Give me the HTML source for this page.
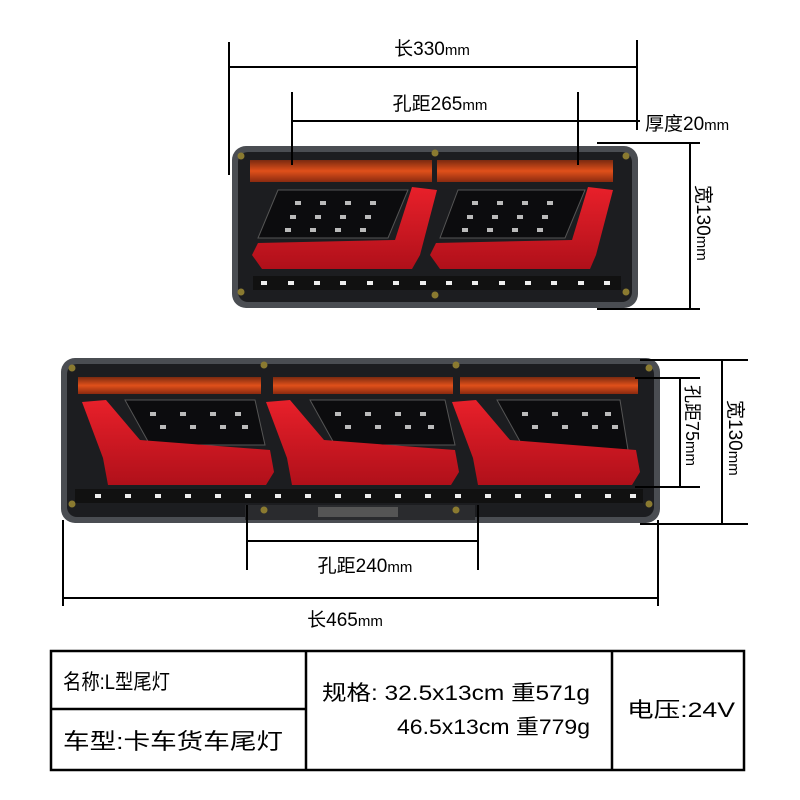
<!DOCTYPE html>
<html><head><meta charset="utf-8"><style>
html,body{margin:0;padding:0;background:#fff}
svg{display:block}
text{font-family:"Liberation Sans","Noto Sans CJK SC",sans-serif;fill:#000}
</style></head><body>
<svg width="800" height="800" viewBox="0 0 800 800" xmlns="http://www.w3.org/2000/svg">
<defs>
<linearGradient id="amb" x1="0" y1="0" x2="0" y2="1"><stop offset="0" stop-color="#7a2a10"/><stop offset="0.5" stop-color="#e0501a"/><stop offset="1" stop-color="#8a2a10"/></linearGradient>
<linearGradient id="red" x1="0" y1="0" x2="0" y2="1"><stop offset="0" stop-color="#e8202a"/><stop offset="1" stop-color="#b0101a"/></linearGradient>
</defs>
<!-- Lamp 1 -->
<rect x="232" y="146" width="406" height="162" rx="14" fill="#4a4d52"/>
<rect x="238" y="152" width="394" height="150" rx="10" fill="#1c1d20"/>
<rect x="250" y="160" width="182" height="22" fill="url(#amb)"/>
<rect x="437" y="160" width="176" height="22" fill="url(#amb)"/>
<polygon points="278,190 408,190 388,238 258,238" fill="#0c0c0e" stroke="#555" stroke-width="1"/>
<polygon points="458,190 585,190 565,238 440,238" fill="#0c0c0e" stroke="#555" stroke-width="1"/>
<polygon points="412,187 437,190 420,255 412,269 262,269 252,255 258,243 395,240" fill="url(#red)"/>
<polygon points="588,187 613,190 596,255 590,269 440,269 430,255 436,243 572,240" fill="url(#red)"/>
<rect x="253" y="276" width="368" height="14" fill="#111"/>
<g fill="#eee">
<rect x="261" y="281" width="6" height="4"/><rect x="288" y="281" width="6" height="4"/><rect x="314" y="281" width="6" height="4"/><rect x="340" y="281" width="6" height="4"/><rect x="367" y="281" width="6" height="4"/><rect x="393" y="281" width="6" height="4"/><rect x="420" y="281" width="6" height="4"/><rect x="446" y="281" width="6" height="4"/><rect x="472" y="281" width="6" height="4"/><rect x="499" y="281" width="6" height="4"/><rect x="525" y="281" width="6" height="4"/><rect x="551" y="281" width="6" height="4"/><rect x="578" y="281" width="6" height="4"/><rect x="604" y="281" width="6" height="4"/>
</g>
<g fill="#bbb">
<rect x="295" y="201" width="6" height="4"/><rect x="320" y="201" width="6" height="4"/><rect x="345" y="201" width="6" height="4"/><rect x="370" y="201" width="6" height="4"/>
<rect x="290" y="215" width="6" height="4"/><rect x="315" y="215" width="6" height="4"/><rect x="340" y="215" width="6" height="4"/><rect x="365" y="215" width="6" height="4"/>
<rect x="285" y="228" width="6" height="4"/><rect x="310" y="228" width="6" height="4"/><rect x="335" y="228" width="6" height="4"/><rect x="360" y="228" width="6" height="4"/>
<rect x="472" y="201" width="6" height="4"/><rect x="497" y="201" width="6" height="4"/><rect x="522" y="201" width="6" height="4"/><rect x="547" y="201" width="6" height="4"/>
<rect x="467" y="215" width="6" height="4"/><rect x="492" y="215" width="6" height="4"/><rect x="517" y="215" width="6" height="4"/><rect x="542" y="215" width="6" height="4"/>
<rect x="462" y="228" width="6" height="4"/><rect x="487" y="228" width="6" height="4"/><rect x="512" y="228" width="6" height="4"/><rect x="537" y="228" width="6" height="4"/>
</g>
<g fill="#8a7a30"><circle cx="241" cy="156" r="3.5"/><circle cx="626" cy="156" r="3.5"/><circle cx="435" cy="153" r="3.5"/><circle cx="241" cy="292" r="3.5"/><circle cx="626" cy="292" r="3.5"/><circle cx="435" cy="295" r="3.5"/></g>

<!-- Lamp 2 -->
<rect x="61" y="358" width="599" height="165" rx="14" fill="#4a4d52"/>
<rect x="67" y="364" width="587" height="153" rx="10" fill="#1c1d20"/>
<rect x="78" y="377" width="183" height="17" fill="url(#amb)"/>
<rect x="273" y="377" width="180" height="17" fill="url(#amb)"/>
<rect x="460" y="377" width="178" height="17" fill="url(#amb)"/>
<polygon points="125,400 255,400 265,445 150,445" fill="#0c0c0e" stroke="#555"/>
<polygon points="310,400 445,400 455,445 335,445" fill="#0c0c0e" stroke="#555"/>
<polygon points="497,400 620,400 628,450 522,445" fill="#0c0c0e" stroke="#555"/>
<polygon points="82,402 106,400 140,440 270,450 274,472 266,485 108,485 103,458" fill="url(#red)"/>
<polygon points="266,402 290,400 324,440 455,450 459,472 451,485 292,485 287,458" fill="url(#red)"/>
<polygon points="452,402 476,400 510,440 636,450 640,472 632,485 478,485 473,458" fill="url(#red)"/>
<rect x="75" y="489" width="568" height="14" fill="#111"/>
<g fill="#eee">
<rect x="95" y="494" width="6" height="4"/><rect x="125" y="494" width="6" height="4"/><rect x="155" y="494" width="6" height="4"/><rect x="185" y="494" width="6" height="4"/><rect x="215" y="494" width="6" height="4"/><rect x="245" y="494" width="6" height="4"/><rect x="275" y="494" width="6" height="4"/><rect x="305" y="494" width="6" height="4"/><rect x="335" y="494" width="6" height="4"/><rect x="365" y="494" width="6" height="4"/><rect x="395" y="494" width="6" height="4"/><rect x="425" y="494" width="6" height="4"/><rect x="455" y="494" width="6" height="4"/><rect x="485" y="494" width="6" height="4"/><rect x="515" y="494" width="6" height="4"/><rect x="545" y="494" width="6" height="4"/><rect x="575" y="494" width="6" height="4"/><rect x="605" y="494" width="6" height="4"/><rect x="630" y="494" width="6" height="4"/>
</g>
<g fill="#bbb">
<rect x="150" y="412" width="6" height="4"/><rect x="180" y="412" width="6" height="4"/><rect x="210" y="412" width="6" height="4"/><rect x="235" y="412" width="6" height="4"/>
<rect x="160" y="425" width="6" height="4"/><rect x="190" y="425" width="6" height="4"/><rect x="220" y="425" width="6" height="4"/><rect x="242" y="425" width="6" height="4"/>
<rect x="335" y="412" width="6" height="4"/><rect x="365" y="412" width="6" height="4"/><rect x="395" y="412" width="6" height="4"/><rect x="420" y="412" width="6" height="4"/>
<rect x="345" y="425" width="6" height="4"/><rect x="375" y="425" width="6" height="4"/><rect x="405" y="425" width="6" height="4"/><rect x="428" y="425" width="6" height="4"/>
<rect x="522" y="412" width="6" height="4"/><rect x="552" y="412" width="6" height="4"/><rect x="582" y="412" width="6" height="4"/><rect x="605" y="412" width="6" height="4"/>
<rect x="532" y="425" width="6" height="4"/><rect x="562" y="425" width="6" height="4"/><rect x="592" y="425" width="6" height="4"/><rect x="612" y="425" width="6" height="4"/>
</g>
<rect x="245" y="505" width="230" height="15" fill="#2a2b2e"/>
<rect x="318" y="507" width="80" height="10" fill="#555"/>
<g fill="#8a7a30"><circle cx="72" cy="368" r="3.5"/><circle cx="649" cy="368" r="3.5"/><circle cx="264" cy="365" r="3.5"/><circle cx="456" cy="365" r="3.5"/><circle cx="72" cy="504" r="3.5"/><circle cx="649" cy="504" r="3.5"/><circle cx="264" cy="510" r="3.5"/><circle cx="456" cy="510" r="3.5"/></g>

<!-- dimension lines -->
<g stroke="#000" stroke-width="2" fill="none">
<line x1="229" y1="67" x2="637" y2="67"/><line x1="229" y1="42" x2="229" y2="175"/><line x1="637" y1="40" x2="637" y2="130"/>
<line x1="292" y1="121" x2="578" y2="121"/><line x1="292" y1="92" x2="292" y2="165"/><line x1="578" y1="92" x2="578" y2="165"/>
<line x1="578" y1="121" x2="640" y2="121"/>
<line x1="597" y1="143" x2="700" y2="143"/><line x1="597" y1="309" x2="700" y2="309"/><line x1="690" y1="143" x2="690" y2="309"/>
<line x1="640" y1="360" x2="748" y2="360"/><line x1="640" y1="524" x2="748" y2="524"/><line x1="722" y1="360" x2="722" y2="524"/>
<line x1="635" y1="378" x2="700" y2="378"/><line x1="635" y1="487" x2="700" y2="487"/><line x1="680" y1="378" x2="680" y2="487"/>
<line x1="247" y1="541" x2="478" y2="541"/><line x1="247" y1="505" x2="247" y2="570"/><line x1="478" y1="505" x2="478" y2="570"/>
<line x1="63" y1="598" x2="658" y2="598"/><line x1="63" y1="520" x2="63" y2="606"/><line x1="658" y1="520" x2="658" y2="606"/>
</g>
<text x="432" y="55" font-size="19" text-anchor="middle">长330<tspan font-size="15">mm</tspan></text>
<text x="440" y="110" font-size="19" text-anchor="middle">孔距265<tspan font-size="15">mm</tspan></text>
<text x="645" y="130" font-size="19">厚度20<tspan font-size="15">mm</tspan></text>
<text transform="translate(697,185) rotate(90)" font-size="19">宽130<tspan font-size="15">mm</tspan></text>
<text transform="translate(729,400) rotate(90)" font-size="19">宽130<tspan font-size="15">mm</tspan></text>
<text transform="translate(686,385) rotate(90)" font-size="18">孔距75<tspan font-size="15">mm</tspan></text>
<text x="365" y="572" font-size="19" text-anchor="middle">孔距240<tspan font-size="15">mm</tspan></text>
<text x="345" y="626" font-size="19" text-anchor="middle">长465<tspan font-size="15">mm</tspan></text>

<!-- table -->
<g stroke="#000" stroke-width="2.5" fill="none">
<rect x="51" y="651" width="693" height="119"/>
<line x1="51" y1="709" x2="306" y2="709"/>
<line x1="306" y1="651" x2="306" y2="770"/>
<line x1="612" y1="651" x2="612" y2="770"/>
</g>
<text x="63" y="689" font-size="21" textLength="107" lengthAdjust="spacingAndGlyphs">名称:L型尾灯</text>
<text x="63" y="749" font-size="22" textLength="220" lengthAdjust="spacingAndGlyphs">车型:卡车货车尾灯</text>
<text x="322" y="700" font-size="21" textLength="268" lengthAdjust="spacingAndGlyphs">规格: 32.5x13cm 重571g</text>
<text x="397" y="734" font-size="21" textLength="193" lengthAdjust="spacingAndGlyphs">46.5x13cm 重779g</text>
<text x="627" y="717" font-size="21" textLength="108" lengthAdjust="spacingAndGlyphs">电压:24V</text>
</svg>
</body></html>
